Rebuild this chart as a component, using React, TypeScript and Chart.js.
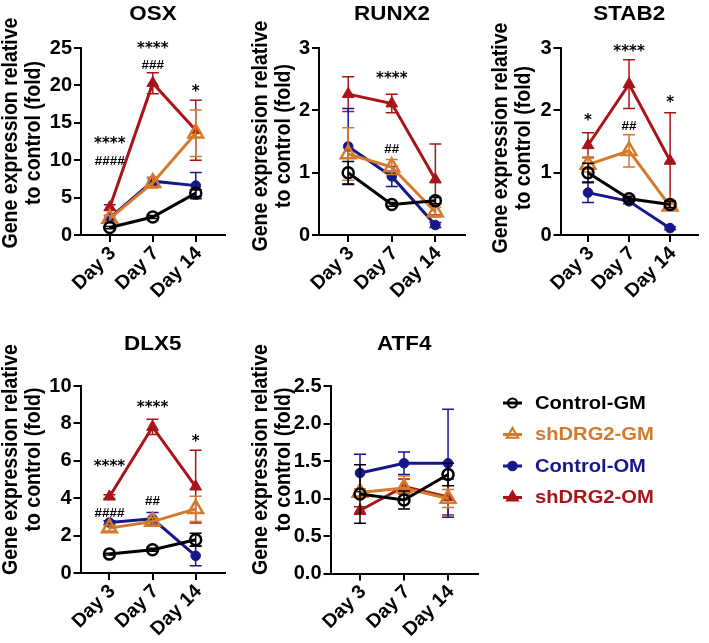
import { useEffect, useRef } from "react";
import { Chart, registerables } from "chart.js";

Chart.register(...registerables);

// ---- shared categories / series ----
const DAYS = ["Day 3", "Day 7", "Day 14"];
const SERIES_NAMES = ["Control-GM", "shDRG2-GM", "Control-OM", "shDRG2-OM"];
const SERIES_COLORS = ["#000000", "#D47A2A", "#17178C", "#A8141A"];
const SERIES_FILLED = [false, false, true, true];
const SERIES_SHAPES = ["circle", "triangle", "circle", "triangle"];
const SERIES_RADIUS = [5.5, 8.5, 4.8, 6.8];

const Y_TITLE_LINES = ["Gene expression relative", "to control (fold)"];

// ---- OSX ----
const OSX_MEAN = [
  [1.0, 2.4, 5.6],
  [2.2, 7.0, 13.6],
  [2.3, 7.2, 6.6],
  [3.7, 20.3, 14.0],
];
const OSX_SD = [
  [0.15, 0.2, 0.45],
  [0.4, 0.7, 3.1],
  [0.3, 0.5, 1.75],
  [0.35, 1.4, 4.0],
];
const OSX_TICKS = [0, 5, 10, 15, 20, 25];
const OSX_SIGNIF = [
  { day: 0, at: 12.2, text: "****" },
  { day: 0, at: 9.8, text: "####" },
  { day: 1, at: 24.8, text: "****" },
  { day: 1, at: 22.7, text: "###" },
  { day: 2, at: 19.1, text: "*" },
];

// ---- RUNX2 ----
const RUNX2_MEAN = [
  [1.0, 0.49, 0.55],
  [1.3, 1.09, 0.37],
  [1.42, 0.94, 0.16],
  [2.26, 2.11, 0.89],
];
const RUNX2_SD = [
  [0.18, 0.03, 0.05],
  [0.42, 0.12, 0.08],
  [0.61, 0.16, 0.04],
  [0.28, 0.15, 0.57],
];
const RUNX2_TICKS = [0, 1, 2, 3];
const RUNX2_SIGNIF = [
  { day: 1, at: 2.5, text: "****" },
  { day: 1, at: 1.37, text: "##" },
];

// ---- STAB2 ----
const STAB2_MEAN = [
  [1.0, 0.58, 0.49],
  [1.13, 1.35, 0.46],
  [0.68, 0.54, 0.11],
  [1.44, 2.42, 1.19],
];
const STAB2_SD = [
  [0.15, 0.04, 0.05],
  [0.12, 0.26, 0.04],
  [0.16, 0.04, 0.02],
  [0.2, 0.39, 0.77],
];
const STAB2_TICKS = [0, 1, 2, 3];
const STAB2_SIGNIF = [
  { day: 0, at: 1.82, text: "*" },
  { day: 1, at: 2.93, text: "****" },
  { day: 1, at: 1.74, text: "##" },
  { day: 2, at: 2.12, text: "*" },
];

// ---- DLX5 ----
const DLX5_MEAN = [
  [1.01, 1.24, 1.78],
  [2.4, 2.75, 3.43],
  [2.7, 2.9, 0.92],
  [4.08, 7.81, 4.62],
];
const DLX5_SD = [
  [0.05, 0.08, 0.35],
  [0.15, 0.2, 0.68],
  [0.1, 0.33, 0.53],
  [0.1, 0.41, 1.95],
];
const DLX5_TICKS = [0, 2, 4, 6, 8, 10];
const DLX5_SIGNIF = [
  { day: 0, at: 5.68, text: "****" },
  { day: 0, at: 3.2, text: "####" },
  { day: 1, at: 8.83, text: "****" },
  { day: 1, at: 3.82, text: "##" },
  { day: 2, at: 7.0, text: "*" },
];

// ---- ATF4 ----
const ATF4_MEAN = [
  [1.06, 0.98, 1.32],
  [1.08, 1.14, 1.0],
  [1.34, 1.47, 1.47],
  [0.84, 1.16, 1.02],
];
const ATF4_SD = [
  [0.39, 0.12, 0.15],
  [0.05, 0.16, 0.12],
  [0.25, 0.15, 0.72],
  [0.05, 0.1, 0.24],
];
const ATF4_TICKS = [0, 0.5, 1, 1.5, 2, 2.5];
const ATF4_SIGNIF: { day: number; at: number; text: string }[] = [];

// ---- layout ----
const X_MIN = -0.67;
const X_MAX = 2.68;
const FONT_ARIAL = "'Liberation Sans', Arial, sans-serif";
const FONT_WIDE = "'DejaVu Sans', 'Liberation Sans', Arial, sans-serif";
const TEXT_STRETCH = 1.12; // horizontal widening used for headings and key text

type Box = { l: number; t: number; r: number; b: number };
type Rect = { x: number; y: number; w: number; h: number };
type Signif = { day: number; at: number; text: string };
type PanelDef = {
  title: string;
  mean: number[][];
  sd: number[][];
  yTicks: number[];
  decimals: number;
  signif: Signif[];
  plot: Box;
  canvas: Rect;
  titleY: number;
  yTitleX: number;
  yTitleY: number;
  legend?: boolean;
};

const PANELS: PanelDef[] = [
  {
    title: "OSX", mean: OSX_MEAN, sd: OSX_SD, yTicks: OSX_TICKS, decimals: 0, signif: OSX_SIGNIF,
    plot: { l: 81, t: 48, r: 228, b: 235 }, canvas: { x: 0, y: 0, w: 236, h: 320 },
    titleY: 14, yTitleX: 11, yTitleY: 133,
  },
  {
    title: "RUNX2", mean: RUNX2_MEAN, sd: RUNX2_SD, yTicks: RUNX2_TICKS, decimals: 0, signif: RUNX2_SIGNIF,
    plot: { l: 319, t: 48, r: 468, b: 235 }, canvas: { x: 236, y: 0, w: 240, h: 320 },
    titleY: 14, yTitleX: 261, yTitleY: 136,
  },
  {
    title: "STAB2", mean: STAB2_MEAN, sd: STAB2_SD, yTicks: STAB2_TICKS, decimals: 0, signif: STAB2_SIGNIF,
    plot: { l: 560.5, t: 48, r: 707, b: 235 }, canvas: { x: 476, y: 0, w: 233, h: 320 },
    titleY: 14, yTitleX: 501, yTitleY: 138,
  },
  {
    title: "DLX5", mean: DLX5_MEAN, sd: DLX5_SD, yTicks: DLX5_TICKS, decimals: 0, signif: DLX5_SIGNIF,
    plot: { l: 80.5, t: 386, r: 227, b: 573 }, canvas: { x: 0, y: 320, w: 236, h: 323 },
    titleY: 344, yTitleX: 11, yTitleY: 459.5,
  },
  {
    title: "ATF4", mean: ATF4_MEAN, sd: ATF4_SD, yTicks: ATF4_TICKS, decimals: 1, signif: ATF4_SIGNIF,
    plot: { l: 330.5, t: 386, r: 478, b: 573.5 }, canvas: { x: 236, y: 320, w: 473, h: 323 },
    titleY: 344, yTitleX: 261, yTitleY: 459.5, legend: true,
  },
];

// legend block (page coordinates)
const LEGEND = { lineX0: 503, lineX1: 522, textX: 535, y0: 403, step: 31.5 };
const LEGEND_RADIUS = [4.5, 6.5, 4.2, 6];

function drawMarker(ctx: CanvasRenderingContext2D, shape: string, x: number, y: number, r: number, color: string, filled: boolean, lw: number) {
  ctx.beginPath();
  if (shape === "circle") {
    ctx.arc(x, y, r, 0, Math.PI * 2);
  } else {
    let a = 0;
    ctx.moveTo(x + Math.sin(a) * r, y - Math.cos(a) * r);
    a += (2 * Math.PI) / 3;
    ctx.lineTo(x + Math.sin(a) * r, y - Math.cos(a) * r);
    a += (2 * Math.PI) / 3;
    ctx.lineTo(x + Math.sin(a) * r, y - Math.cos(a) * r);
    ctx.closePath();
  }
  ctx.lineWidth = lw;
  ctx.strokeStyle = color;
  if (filled) {
    ctx.fillStyle = color;
    ctx.fill();
  }
  ctx.stroke();
}

// text widened horizontally around its anchor point
function wideText(ctx: CanvasRenderingContext2D, text: string, x: number, y: number) {
  ctx.save();
  ctx.translate(x, y);
  ctx.scale(TEXT_STRETCH, 1);
  ctx.fillText(text, 0, 0);
  ctx.restore();
}

function makeDecor(p: PanelDef) {
  const ox = p.canvas.x;
  const oy = p.canvas.y;
  return {
    id: "decor",
    beforeDatasetDraw(chart: any, args: any) {
      const s = args.index;
      const { ctx, scales } = chart;
      const xs = scales.x;
      const ys = scales.y;
      ctx.save();
      ctx.strokeStyle = SERIES_COLORS[s];
      ctx.lineWidth = 1.5;
      p.mean[s].forEach((m, i) => {
        const e = p.sd[s][i];
        const px = xs.getPixelForValue(i);
        const top = ys.getPixelForValue(m + e);
        const bot = ys.getPixelForValue(Math.max(0, m - e));
        ctx.beginPath();
        ctx.moveTo(px, top);
        ctx.lineTo(px, bot);
        ctx.moveTo(px - 6, top);
        ctx.lineTo(px + 6, top);
        if (m - e > 0) {
          ctx.moveTo(px - 6, bot);
          ctx.lineTo(px + 6, bot);
        }
        ctx.stroke();
      });
      ctx.restore();
    },
    afterDatasetsDraw(chart: any) {
      const { ctx, scales } = chart;
      ctx.save();
      ctx.fillStyle = "#000";
      ctx.textAlign = "center";
      ctx.textBaseline = "middle";
      p.signif.forEach((a) => {
        ctx.font = a.text[0] === "*" ? `bold 15px ${FONT_WIDE}` : `bold 13.5px ${FONT_ARIAL}`;
        ctx.fillText(a.text, scales.x.getPixelForValue(a.day), scales.y.getPixelForValue(a.at));
      });
      ctx.restore();
    },
    afterDraw(chart: any) {
      const { ctx, chartArea } = chart;
      ctx.save();
      // panel heading
      ctx.fillStyle = "#000";
      ctx.textAlign = "center";
      ctx.textBaseline = "middle";
      ctx.font = `bold 20px ${FONT_ARIAL}`;
      wideText(ctx, p.title, (chartArea.left + chartArea.right) / 2, p.titleY - oy);
      // y-axis title, two lines
      ctx.font = `bold 19.5px ${FONT_ARIAL}`;
      Y_TITLE_LINES.forEach((line, k) => {
        ctx.save();
        ctx.translate(p.yTitleX - ox + k * 23, p.yTitleY - oy);
        ctx.scale(TEXT_STRETCH, 1);
        ctx.rotate(-Math.PI / 2);
        ctx.fillText(line, 0, 0);
        ctx.restore();
      });
      // series key
      if (p.legend) {
        SERIES_NAMES.forEach((name, s) => {
          const y = LEGEND.y0 + s * LEGEND.step - oy;
          ctx.strokeStyle = SERIES_COLORS[s];
          ctx.lineWidth = 3;
          ctx.beginPath();
          ctx.moveTo(LEGEND.lineX0 - ox, y);
          ctx.lineTo(LEGEND.lineX1 - ox, y);
          ctx.stroke();
          drawMarker(ctx, SERIES_SHAPES[s], (LEGEND.lineX0 + LEGEND.lineX1) / 2 - ox, y, LEGEND_RADIUS[s], SERIES_COLORS[s], SERIES_FILLED[s], 2.2);
          ctx.fillStyle = SERIES_COLORS[s];
          ctx.textAlign = "left";
          ctx.textBaseline = "middle";
          ctx.font = `bold 18px ${FONT_ARIAL}`;
          wideText(ctx, name, LEGEND.textX - ox, y + 1);
        });
      }
      ctx.restore();
    },
  };
}

function Panel({ p }: { p: PanelDef }) {
  const ref = useRef<HTMLCanvasElement | null>(null);

  useEffect(() => {
    const canvas = ref.current;
    if (!canvas) return;
    const yAxisW = p.plot.l - p.canvas.x;
    const xAxisH = p.canvas.y + p.canvas.h - p.plot.b;
    const padTop = p.plot.t - p.canvas.y;
    const padRight = p.canvas.x + p.canvas.w - p.plot.r;
    const yMax = p.yTicks[p.yTicks.length - 1];

    const tickFont = { family: FONT_ARIAL, weight: "bold" as const, size: 20 };
    const axisLine = { display: true, color: "#000", width: 2 };
    const tickGrid = { display: true, drawOnChartArea: false, drawTicks: true, tickLength: 7, color: "#000", lineWidth: 2 };

    const chart = new Chart(canvas, {
      type: "line",
      data: {
        datasets: SERIES_NAMES.map((name, s) => ({
          label: name,
          data: p.mean[s].map((v, i) => ({ x: i, y: v })),
          borderColor: SERIES_COLORS[s],
          backgroundColor: SERIES_FILLED[s] ? SERIES_COLORS[s] : "rgba(0,0,0,0)",
          pointBackgroundColor: SERIES_FILLED[s] ? SERIES_COLORS[s] : "rgba(0,0,0,0)",
          pointBorderColor: SERIES_COLORS[s],
          pointStyle: SERIES_SHAPES[s] as any,
          pointRadius: SERIES_RADIUS[s],
          pointBorderWidth: SERIES_FILLED[s] ? 1 : 2.5,
          borderWidth: 3,
          tension: 0,
          fill: false,
          clip: 20,
        })),
      },
      options: {
        animation: false,
        responsive: false,
        devicePixelRatio: 1,
        events: [],
        layout: { padding: { top: padTop, right: padRight, left: 0, bottom: 0 } },
        plugins: {
          legend: { display: false },
          tooltip: { enabled: false },
          title: { display: false },
        },
        scales: {
          x: {
            type: "linear",
            min: X_MIN,
            max: X_MAX,
            afterBuildTicks: (sc: any) => {
              sc.ticks = DAYS.map((_, i) => ({ value: i }));
            },
            afterFit: (sc: any) => {
              sc.height = xAxisH;
            },
            ticks: {
              autoSkip: false,
              minRotation: 45,
              maxRotation: 45,
              padding: 0,
              labelOffset: 3,
              color: "#000",
              font: { ...tickFont, size: 19.5 },
              callback: (v: any) => DAYS[Number(v)] ?? "",
            },
            grid: tickGrid,
            border: axisLine,
          },
          y: {
            type: "linear",
            min: 0,
            max: yMax,
            afterBuildTicks: (sc: any) => {
              sc.ticks = p.yTicks.map((v) => ({ value: v }));
            },
            afterFit: (sc: any) => {
              sc.width = yAxisW;
            },
            ticks: {
              padding: 2,
              color: "#000",
              font: tickFont,
              callback: (v: any) => Number(v).toFixed(p.decimals),
            },
            grid: tickGrid,
            border: axisLine,
          },
        },
      },
      plugins: [makeDecor(p)],
    });
    return () => chart.destroy();
  }, [p]);

  return (
    <canvas
      ref={ref}
      width={p.canvas.w}
      height={p.canvas.h}
      style={{ position: "absolute", left: p.canvas.x, top: p.canvas.y, width: p.canvas.w, height: p.canvas.h }}
    />
  );
}

export default function App() {
  return (
    <div style={{ position: "absolute", left: 0, top: 0, width: 709, height: 643, background: "#fff", overflow: "hidden" }}>
      {PANELS.map((p) => (
        <Panel key={p.title} p={p} />
      ))}
    </div>
  );
}
